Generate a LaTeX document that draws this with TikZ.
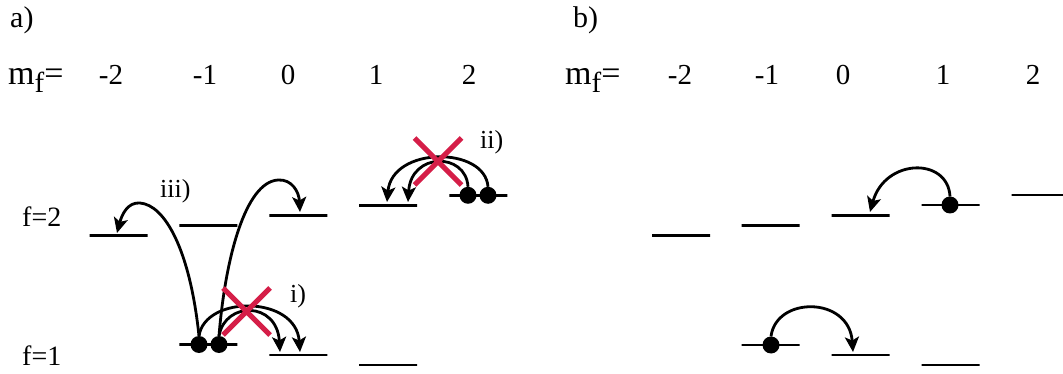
\documentclass[tikz,border=0pt]{standalone}
\usepackage{fontspec}
\setmainfont{Liberation Serif}
\usetikzlibrary{arrows.meta,shapes.misc}
\definecolor{xred}{RGB}{213,30,72}
\begin{document}
\begin{tikzpicture}[x=1pt,y=-1pt,
  lvl/.style={draw, line width=2.6pt, minimum width=58pt, minimum height=0pt, inner sep=0pt, outer sep=0pt},
  atom/.style={circle, fill=black, minimum size=17pt, inner sep=0pt, outer sep=0pt},
  jump/.style={line width=2.8pt, -{Stealth[length=15pt,width=14pt,inset=3.5pt]}},
  forbid/.style={cross out, draw=xred, line width=5pt, minimum size=42pt, inner sep=0pt},
  num/.style={anchor=base, font=\fontsize{29}{29}\selectfont, inner sep=0pt},
  lab/.style={anchor=base west, font=\fontsize{26}{26}\selectfont, inner sep=0pt},
  flab/.style={anchor=base west, font=\fontsize{28}{28}\selectfont, inner sep=0pt},
  plab/.style={anchor=base west, font=\fontsize{30}{30}\selectfont, inner sep=0pt},
  mflab/.style={anchor=base west, inner sep=0pt}]
\useasboundingbox (0,0) rectangle (1063,374);
% ---------------- panel a ----------------
\node[plab] (pa) at (10,28) {a)};
\node[mflab] (mfa) at (8,85) {\fontsize{34}{34}\selectfont m\raisebox{-8pt}{\fontsize{29}{29}\selectfont f}=};
\node[num] (na1) at (111,85) {-2};
\node[num] (na2) at (205,85) {-1};
\node[num] (na3) at (288,85) {0};
\node[num] (na4) at (376,85) {1};
\node[num] (na5) at (469,85) {2};
\node[flab] (fa2) at (22,227) {f=2};
\node[flab] (fa1) at (22,365) {f=1};
% f=2 levels
\node[lvl] (a2m2) at (118.5,235.5) {};
\node[lvl] (a2m1) at (208.3,225.5) {};
\node[lvl] (a2z)  at (298.3,215.5) {};
\node[lvl] (a2p1) at (388.2,205.3) {};
\node[lvl] (a2p2) at (478.3,195.3) {};
% f=1 levels
\node[lvl] (a1m1) at (208.3,344.5) {};
\node[lvl] (a1z)  at (298.3,355) {};
\node[lvl] (a1p1) at (388.2,365) {};
% atoms
\node[atom] (da1) at (199,344.5) {};
\node[atom] (da2) at (219,344.5) {};
\node[atom] (db1) at (468,195.3) {};
\node[atom] (db2) at (488,195.3) {};
% arrow targets
\coordinate (t1) at (117,233);
\coordinate (t2) at (300,212);
\coordinate (t3) at (300,352);
\coordinate (t4) at (280,352);
\coordinate (t5) at (387,202);
\coordinate (t6) at (408,202);
% iii) jumps
\draw[jump] (da1.north) .. controls (190,250) and (165,205) .. (140,203) .. controls (128,202) and (122,214) .. (t1);
\draw[jump] (da2.north) .. controls (225,260) and (245,182) .. (278,180) .. controls (292,179) and (299,192) .. (t2);
% i) jumps
\draw[jump] (da1.north) .. controls (205,295) and (296,295) .. (t3);
\draw[jump] (da2.north) .. controls (225,301) and (277,301) .. (t4);
% ii) jumps
\draw[jump] (db2.north) .. controls (485,146) and (392,146) .. (t5);
\draw[jump] (db1.north) .. controls (466,152) and (411,152) .. (t6);
% forbidden marks
\node[forbid] (xi)  at (246.5,311.5) {};
\node[forbid] (xii) at (438,161.5) {};
\node[lab] (li)   at (290,302) {i)};
\node[lab] (lii)  at (480,149) {ii)};
\node[lab] (liii) at (160,198) {iii)};
% ---------------- panel b ----------------
\node[plab] (pb) at (573,28) {b)};
\node[mflab] (mfb) at (565,85) {\fontsize{34}{34}\selectfont m\raisebox{-8pt}{\fontsize{29}{29}\selectfont f}=};
\node[num] (nb1) at (680,85) {-2};
\node[num] (nb2) at (767,85) {-1};
\node[num] (nb3) at (843,85) {0};
\node[num] (nb4) at (943,85) {1};
\node[num] (nb5) at (1033,85) {2};
\node[lvl] (b2m2) at (681,235.3) {};
\node[lvl] (b2m1) at (770.6,225.3) {};
\node[lvl] (b2z)  at (860.6,215.3) {};
\node[lvl] (b2p1) at (950.5,205) {};
\node[lvl] (b2p2) at (1040.5,195) {};
\node[lvl] (b1m1) at (770.6,345) {};
\node[lvl] (b1z)  at (860.6,355) {};
\node[lvl] (b1p1) at (950.5,365) {};
\node[atom] (dc) at (950,205) {};
\node[atom] (dd) at (771,345) {};
\coordinate (t7) at (870,212);
\coordinate (t8) at (853,352);
\draw[jump] (dc.north) .. controls (948,157) and (885,158) .. (t7);
\draw[jump] (dd.north) .. controls (776,296) and (849,296) .. (t8);
\end{tikzpicture}
\end{document}
